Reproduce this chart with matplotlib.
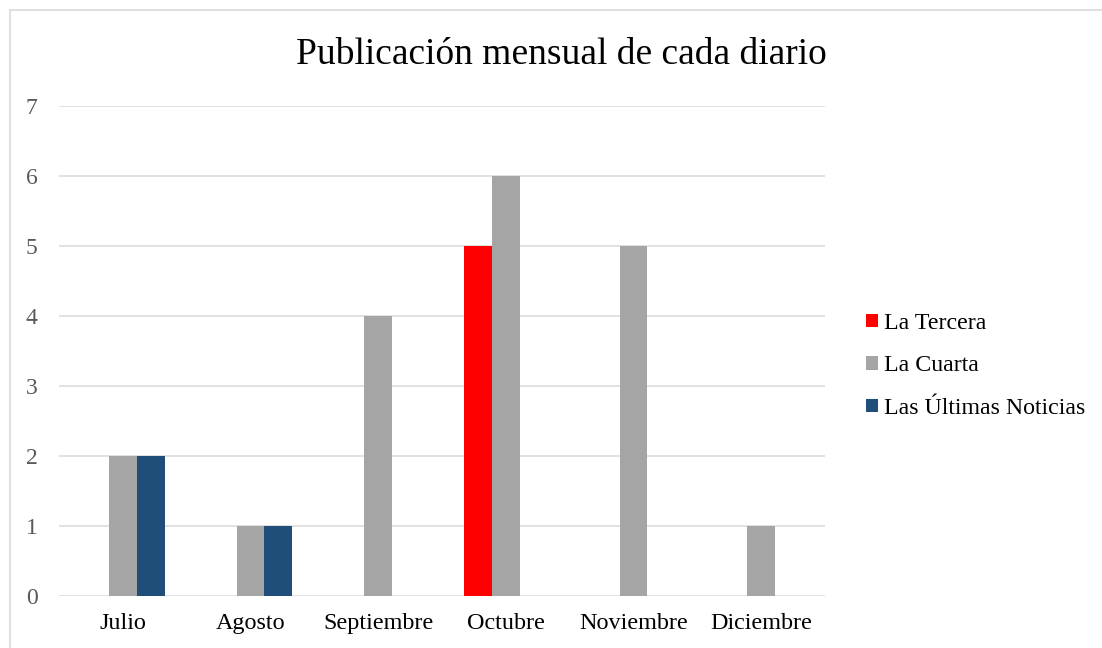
import matplotlib
matplotlib.use('Agg')
import matplotlib.pyplot as plt
from matplotlib.patches import Rectangle, Patch
import numpy as np

plt.rcParams['font.family'] = ['Liberation Serif', 'DejaVu Serif']

months = ['Julio', 'Agosto', 'Septiembre', 'Octubre', 'Noviembre', 'Diciembre']
la_tercera = [0, 0, 0, 5, 0, 0]
la_cuarta = [2, 1, 4, 6, 5, 1]
ultimas_noticias = [2, 1, 0, 0, 0, 0]
series_names = ['La Tercera', 'La Cuarta', 'Las Últimas Noticias']
colors = ['#FF0000', '#A5A5A5', '#1F4E79']

fig = plt.figure(figsize=(11.02, 6.48), dpi=100)
ax = fig.add_axes([59 / 1102, 1 - 596 / 648, (825 - 59) / 1102, (596 - 106) / 648])

# outer chart border (only top and left are visible in the crop)
fig.patches.append(Rectangle((9.5 / 1102, -0.1), 1.2, 1 - 10.5 / 648 + 0.1,
                             transform=fig.transFigure, fill=False,
                             edgecolor='#D9D9D9', linewidth=1.2))

x = np.arange(len(months))
w = 0.219
for i, (vals, name, c) in enumerate(zip([la_tercera, la_cuarta, ultimas_noticias], series_names, colors)):
    ax.bar(x + (i - 1) * w, vals, width=w, color=c, label=name, zorder=3)

ax.set_xlim(-0.5, len(months) - 0.5)
ax.set_ylim(0, 7)
ax.set_yticks(range(0, 8))
ax.yaxis.grid(True, color='#D9D9D9', linewidth=1.1, zorder=0)
ax.set_axisbelow(True)
for s in ax.spines.values():
    s.set_visible(False)

ax.set_xticks(x)
ax.set_xticklabels(months, fontsize=17.4, color='black')
ax.tick_params(axis='x', length=0, pad=12)
ax.tick_params(axis='y', length=0, pad=15.5, labelsize=17, labelcolor='#595959')

fig.text(0.509, 1 - 55 / 648, 'Publicación mensual de cada diario',
         ha='center', va='center', fontsize=27, color='black')

handles = [Patch(facecolor=c, label=n) for c, n in zip(colors, series_names)]
fig.legend(handles=handles, loc='center left', bbox_to_anchor=(854 / 1102, 1 - 366 / 648),
           frameon=False, fontsize=17.2, handlelength=0.5, handleheight=0.5,
           handletextpad=0.25, labelspacing=0.9, borderpad=0)

fig.savefig('out.png', dpi=100)
